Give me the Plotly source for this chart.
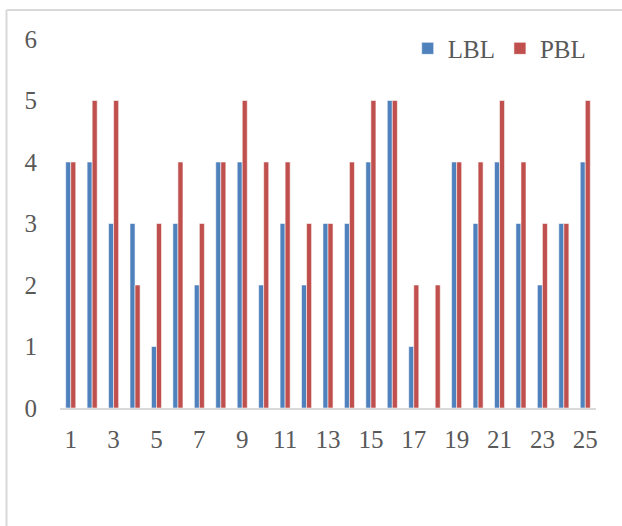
import plotly.graph_objects as go

categories = list(range(1, 26))
lbl = [4, 4, 3, 3, 1, 3, 2, 4, 4, 2, 3, 2, 3, 3, 4, 5, 1, 0, 4, 3, 4, 3, 2, 3, 4]
pbl = [4, 5, 5, 2, 3, 4, 3, 4, 5, 4, 4, 3, 3, 4, 5, 5, 2, 2, 4, 4, 5, 4, 3, 3, 5]
x_tick_vals = list(range(1, 26, 2))
y_tick_vals = [0, 1, 2, 3, 4, 5, 6]

FONT = "Liberation Serif, Times New Roman, serif"
GRAY = "#595959"
BORDER = "#d9d9d9"

fig = go.Figure()
fig.add_trace(go.Bar(x=categories, y=lbl, name="LBL",
                     marker=dict(color="#4F81BD", line=dict(color="rgba(255,255,255,0.7)", width=0.8))))
fig.add_trace(go.Bar(x=categories, y=pbl, name="PBL",
                     marker=dict(color="#C0504D", line=dict(color="rgba(255,255,255,0.7)", width=0.8))))

fig.update_layout(
    width=622, height=526,
    margin=dict(l=60, r=26, t=39, b=118),
    paper_bgcolor="white", plot_bgcolor="white",
    barmode="group", bargap=0.53, bargroupgap=0,
    font=dict(family=FONT, size=25, color=GRAY),
    showlegend=True,
    legend=dict(orientation="h", x=0.992, xanchor="right", y=0.974, yanchor="middle",
                font=dict(family=FONT, size=25, color=GRAY),
                itemwidth=30, tracegroupgap=0, bgcolor="rgba(0,0,0,0)"),
    xaxis=dict(range=[0.5, 25.5], tickmode="array", tickvals=x_tick_vals,
               ticktext=[str(v) for v in x_tick_vals],
               showgrid=False, zeroline=False, showline=True, linecolor=BORDER,
               linewidth=2, ticks="", ticklabelstandoff=8),
    yaxis=dict(range=[0, 6], tickmode="array", tickvals=y_tick_vals,
               showgrid=False, zeroline=False, showline=False, ticks="",
               ticklabelstandoff=22),
    shapes=[
        dict(type="line", xref="paper", yref="paper",
             x0=-0.0998, x1=-0.0998, y0=-0.35, y1=1.0786,
             line=dict(color=BORDER, width=2), layer="below"),
        dict(type="line", xref="paper", yref="paper",
             x0=-0.0998, x1=1.06, y0=1.0786, y1=1.0786,
             line=dict(color=BORDER, width=2), layer="below"),
    ],
)

fig.write_html("out.html", config={"displayModeBar": False},
               post_script="document.body.style.margin='0px';")
